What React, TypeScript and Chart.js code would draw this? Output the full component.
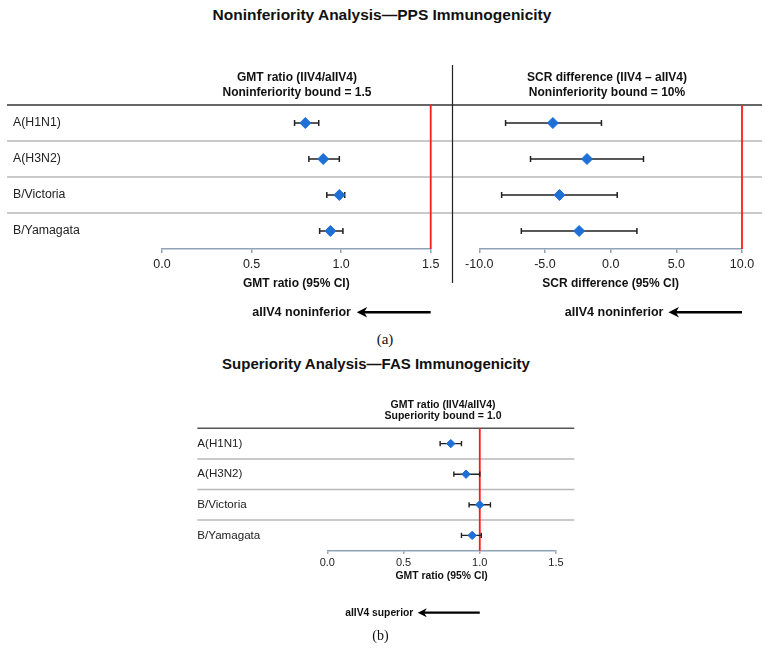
import React, { useEffect, useRef } from 'react';
import { Chart, registerables } from 'chart.js';

Chart.register(...registerables);

// ---------------- data ----------------
const strains = ['A(H1N1)', 'A(H3N2)', 'B/Victoria', 'B/Yamagata'];

// (a) PPS – GMT ratio (IIV4/aIIV4)
const ppsGmtPoint = [0.80, 0.90, 0.99, 0.94];
const ppsGmtLower = [0.74, 0.82, 0.92, 0.88];
const ppsGmtUpper = [0.875, 0.99, 1.02, 1.01];
const ppsGmtBound = 1.5;

// (a) PPS – SCR difference (IIV4 – aIIV4)
const ppsScrPoint = [-4.4, -1.8, -3.9, -2.4];
const ppsScrLower = [-8.0, -6.1, -8.3, -6.8];
const ppsScrUpper = [-0.7, 2.5, 0.5, 2.0];
const ppsScrBound = 10;

// (b) FAS – GMT ratio (IIV4/aIIV4)
const fasGmtPoint = [0.81, 0.91, 1.0, 0.95];
const fasGmtLower = [0.74, 0.83, 0.93, 0.88];
const fasGmtUpper = [0.88, 1.0, 1.07, 1.01];
const fasGmtBound = 1.0;

const gmtTicks = [0, 0.5, 1.0, 1.5];
const scrTicks = [-10, -5, 0, 5, 10];

// ---------------- styles ----------------
const SANS = "'Liberation Sans', Arial, Helvetica, sans-serif";
const SERIF = "'Liberation Serif', 'Times New Roman', serif";
const AXIS_COLOR = '#8EA3B7';
const POINT_COLOR = '#1E6FD6';
const TEXT_COLOR = '#111111';

Chart.defaults.font.family = SANS;
Chart.defaults.color = TEXT_COLOR;

const forestPlugin = {
  id: 'forest',
  beforeDatasetsDraw(chart: any, _args: any, o: any) {
    const { ctx, chartArea: ca, scales } = chart;
    const x = scales.x;
    const y = scales.y;
    const n = o.labels.length;
    ctx.save();
    // row separators
    ctx.strokeStyle = o.sepColor;
    ctx.lineWidth = o.sepWidth;
    for (let i = 0; i < n - 1; i++) {
      const yy = (y.getPixelForValue(i) + y.getPixelForValue(i + 1)) / 2;
      ctx.beginPath();
      ctx.moveTo(o.lineX0, yy);
      ctx.lineTo(o.lineX1, yy);
      ctx.stroke();
    }
    // header rule
    ctx.strokeStyle = o.ruleColor;
    ctx.lineWidth = o.ruleWidth;
    ctx.beginPath();
    ctx.moveTo(o.lineX0, ca.top);
    ctx.lineTo(o.lineX1, ca.top);
    ctx.stroke();
    // bound line
    const bx = x.getPixelForValue(o.bound);
    ctx.strokeStyle = '#FF1A1A';
    ctx.lineWidth = 1.8;
    ctx.beginPath();
    ctx.moveTo(bx, ca.top);
    ctx.lineTo(bx, ca.bottom);
    ctx.stroke();
    // error bars
    ctx.strokeStyle = '#222222';
    ctx.lineWidth = o.barWidth;
    for (let i = 0; i < n; i++) {
      const yy = y.getPixelForValue(i);
      const x0 = x.getPixelForValue(o.lower[i]);
      const x1 = x.getPixelForValue(o.upper[i]);
      ctx.beginPath();
      ctx.moveTo(x0, yy);
      ctx.lineTo(x1, yy);
      ctx.moveTo(x0, yy - o.cap);
      ctx.lineTo(x0, yy + o.cap);
      ctx.moveTo(x1, yy - o.cap);
      ctx.lineTo(x1, yy + o.cap);
      ctx.stroke();
    }
    ctx.restore();
  },
  afterDraw(chart: any, _args: any, o: any) {
    const { ctx, chartArea: ca, scales } = chart;
    const x = scales.x;
    ctx.save();
    // arrow pointing left from the bound
    const bx = x.getPixelForValue(o.bound);
    const ay = ca.bottom + o.arrowDy;
    const tip = bx - o.arrowLen;
    ctx.strokeStyle = '#000';
    ctx.fillStyle = '#000';
    ctx.lineWidth = o.arrowWidth;
    ctx.beginPath();
    ctx.moveTo(bx, ay);
    ctx.lineTo(tip + o.headLen * 0.6, ay);
    ctx.stroke();
    ctx.beginPath();
    ctx.moveTo(tip, ay);
    ctx.lineTo(tip + o.headLen, ay - o.headHalf);
    ctx.lineTo(tip + o.headLen * 0.7, ay);
    ctx.lineTo(tip + o.headLen, ay + o.headHalf);
    ctx.closePath();
    ctx.fill();
    // optional vertical divider
    if (o.divider) {
      ctx.strokeStyle = '#222';
      ctx.lineWidth = 1.2;
      ctx.beginPath();
      ctx.moveTo(o.divider.x, o.divider.y0);
      ctx.lineTo(o.divider.x, o.divider.y1);
      ctx.stroke();
    }
    ctx.restore();
  },
};

function forestConfig(p: any) {
  return {
    type: 'scatter',
    data: {
      datasets: [
        {
          data: strains.map((s, i) => ({ x: p.point[i], y: s })),
          pointStyle: 'rectRot',
          pointRadius: p.radius,
          pointHoverRadius: p.radius,
          backgroundColor: POINT_COLOR,
          borderColor: POINT_COLOR,
          borderWidth: 1,
        },
      ],
    },
    options: {
      responsive: false,
      animation: false,
      events: [],
      layout: { padding: p.padding },
      plugins: {
        legend: { display: false },
        tooltip: { enabled: false },
        forest: {
          labels: strains,
          lower: p.lower,
          upper: p.upper,
          bound: p.bound,
          lineX0: p.lineX0,
          lineX1: p.lineX1,
          sepColor: '#B8B8B8',
          sepWidth: 1.5,
          ruleColor: p.ruleColor,
          ruleWidth: 1.5,
          barWidth: p.barWidth,
          cap: p.cap,
          arrowDy: p.arrowDy,
          arrowLen: p.arrowLen,
          arrowWidth: p.arrowWidth,
          headLen: p.headLen,
          headHalf: p.headHalf,
          divider: p.divider,
        },
      },
      scales: {
        x: {
          type: 'linear',
          min: p.ticks[0],
          max: p.ticks[p.ticks.length - 1],
          afterBuildTicks: (s: any) => {
            s.ticks = p.ticks.map((v: number) => ({ value: v }));
          },
          afterFit: (s: any) => {
            s.height = p.xHeight;
          },
          ticks: {
            autoSkip: false,
            maxRotation: 0,
            color: '#222',
            padding: p.tickPad,
            font: { size: p.tickSize },
            callback: (v: any) => Number(v).toFixed(1),
          },
          grid: {
            drawOnChartArea: false,
            drawTicks: true,
            tickLength: p.tickLen,
            color: AXIS_COLOR,
            lineWidth: 1.5,
          },
          border: { display: true, color: AXIS_COLOR, width: 1.5 },
          title: {
            display: true,
            text: p.xTitle,
            color: TEXT_COLOR,
            font: { size: p.xTitleSize, weight: 'bold' },
            padding: { top: 0, bottom: p.xTitlePad },
          },
        },
        y: {
          type: 'category',
          labels: strains,
          offset: true,
          display: p.showLabels,
          afterFit: (s: any) => {
            if (p.yWidth) s.width = p.yWidth;
          },
          grid: { display: false },
          border: { display: false },
          ticks: {
            crossAlign: 'far',
            color: '#222',
            font: { size: p.labelSize },
            padding: 0,
          },
        },
      },
    },
    plugins: [forestPlugin],
  };
}

const cfgPpsGmt = forestConfig({
  point: ppsGmtPoint,
  lower: ppsGmtLower,
  upper: ppsGmtUpper,
  bound: ppsGmtBound,
  ticks: gmtTicks,
  xTitle: 'GMT ratio (95% CI)',
  padding: { left: 13, right: 20.3, top: 45, bottom: 25 },
  xHeight: 56,
  yWidth: 149,
  showLabels: true,
  labelSize: 12.3,
  tickSize: 12.5,
  tickPad: 3.8,
  tickLen: 4,
  xTitleSize: 12,
  xTitlePad: 13.8,
  radius: 5.5,
  barWidth: 1.5,
  cap: 3,
  lineX0: 7,
  lineX1: 451,
  ruleColor: '#333',
  arrowDy: 63.3,
  arrowLen: 74,
  arrowWidth: 2.6,
  headLen: 10.5,
  headHalf: 5.3,
  divider: null,
});

const cfgPpsScr = forestConfig({
  point: ppsScrPoint,
  lower: ppsScrLower,
  upper: ppsScrUpper,
  bound: ppsScrBound,
  ticks: scrTicks,
  xTitle: 'SCR difference (95% CI)',
  padding: { left: 28.3, right: 29, top: 45, bottom: 25 },
  xHeight: 56,
  yWidth: 0,
  showLabels: false,
  labelSize: 12.3,
  tickSize: 12.5,
  tickPad: 3.8,
  tickLen: 4,
  xTitleSize: 12,
  xTitlePad: 13.8,
  radius: 5.5,
  barWidth: 1.5,
  cap: 3,
  lineX0: 0,
  lineX1: 311,
  ruleColor: '#333',
  arrowDy: 63.3,
  arrowLen: 73.5,
  arrowWidth: 2.6,
  headLen: 10.5,
  headHalf: 5.3,
  divider: { x: 1.5, y0: 5, y1: 223 },
});

const cfgFasGmt = forestConfig({
  point: fasGmtPoint,
  lower: fasGmtLower,
  upper: fasGmtUpper,
  bound: fasGmtBound,
  ticks: gmtTicks,
  xTitle: 'GMT ratio (95% CI)',
  padding: { left: 7.3, right: 24, top: 38.3, bottom: 60 },
  xHeight: 39.3,
  yWidth: 130,
  showLabels: true,
  labelSize: 11.6,
  tickSize: 11,
  tickPad: 2.4,
  tickLen: 3,
  xTitleSize: 10.4,
  xTitlePad: 7.8,
  radius: 4.2,
  barWidth: 1.4,
  cap: 2.6,
  lineX0: 7.3,
  lineX1: 384.3,
  ruleColor: '#555',
  arrowDy: 62,
  arrowLen: 62,
  arrowWidth: 2.2,
  headLen: 9,
  headHalf: 4.5,
  divider: null,
});

// ---------------- text helper ----------------
function Txt(props: {
  x: number;
  y: number;
  size: number;
  bold?: boolean;
  align?: 'center' | 'right' | 'left';
  serif?: boolean;
  children: React.ReactNode;
}) {
  const { x, y, size, bold, align = 'center', serif, children } = props;
  const tx = align === 'center' ? '-50%' : align === 'right' ? '-100%' : '0';
  return (
    <div
      style={{
        position: 'absolute',
        left: x,
        top: y,
        transform: `translate(${tx}, -50%)`,
        fontSize: size,
        fontWeight: bold ? 700 : 400,
        lineHeight: 1,
        whiteSpace: 'nowrap',
        color: TEXT_COLOR,
        fontFamily: serif ? SERIF : SANS,
      }}
    >
      {children}
    </div>
  );
}

export default function App() {
  const r1 = useRef<HTMLCanvasElement>(null);
  const r2 = useRef<HTMLCanvasElement>(null);
  const r3 = useRef<HTMLCanvasElement>(null);

  useEffect(() => {
    const charts = [
      new Chart(r1.current as HTMLCanvasElement, cfgPpsGmt as any),
      new Chart(r2.current as HTMLCanvasElement, cfgPpsScr as any),
      new Chart(r3.current as HTMLCanvasElement, cfgFasGmt as any),
    ];
    return () => charts.forEach((c) => c.destroy());
  }, []);

  return (
    <div
      style={{
        position: 'absolute',
        left: 0,
        top: 0,
        width: 771,
        height: 651,
        background: '#fff',
        overflow: 'hidden',
      }}
    >
      <canvas
        ref={r1}
        width={451}
        height={270}
        style={{ position: 'absolute', left: 0, top: 60, width: 451, height: 270 }}
      />
      <canvas
        ref={r2}
        width={320}
        height={270}
        style={{ position: 'absolute', left: 451, top: 60, width: 320, height: 270 }}
      />
      <canvas
        ref={r3}
        width={390}
        height={260}
        style={{ position: 'absolute', left: 190, top: 390, width: 390, height: 260 }}
      />

      <Txt x={382} y={15} size={15.5} bold>
        Noninferiority Analysis—PPS Immunogenicity
      </Txt>
      <Txt x={297} y={77} size={12} bold>
        GMT ratio (IIV4/aIIV4)
      </Txt>
      <Txt x={297} y={92} size={12} bold>
        Noninferiority bound = 1.5
      </Txt>
      <Txt x={607} y={77} size={12} bold>
        SCR difference (IIV4 – aIIV4)
      </Txt>
      <Txt x={607} y={92} size={12} bold>
        Noninferiority bound = 10%
      </Txt>
      <Txt x={351} y={312.3} size={12.5} bold align="right">
        aIIV4 noninferior
      </Txt>
      <Txt x={663.5} y={312.3} size={12.5} bold align="right">
        aIIV4 noninferior
      </Txt>
      <Txt x={385} y={339} size={15} serif>
        (a)
      </Txt>

      <Txt x={376} y={363} size={15} bold>
        Superiority Analysis—FAS Immunogenicity
      </Txt>
      <Txt x={443} y={403.5} size={10.5} bold>
        GMT ratio (IIV4/aIIV4)
      </Txt>
      <Txt x={443} y={415} size={10.5} bold>
        Superiority bound = 1.0
      </Txt>
      <Txt x={413.3} y={612.7} size={10.3} bold align="right">
        aIIV4 superior
      </Txt>
      <Txt x={380.5} y={635.5} size={14} serif>
        (b)
      </Txt>
    </div>
  );
}
